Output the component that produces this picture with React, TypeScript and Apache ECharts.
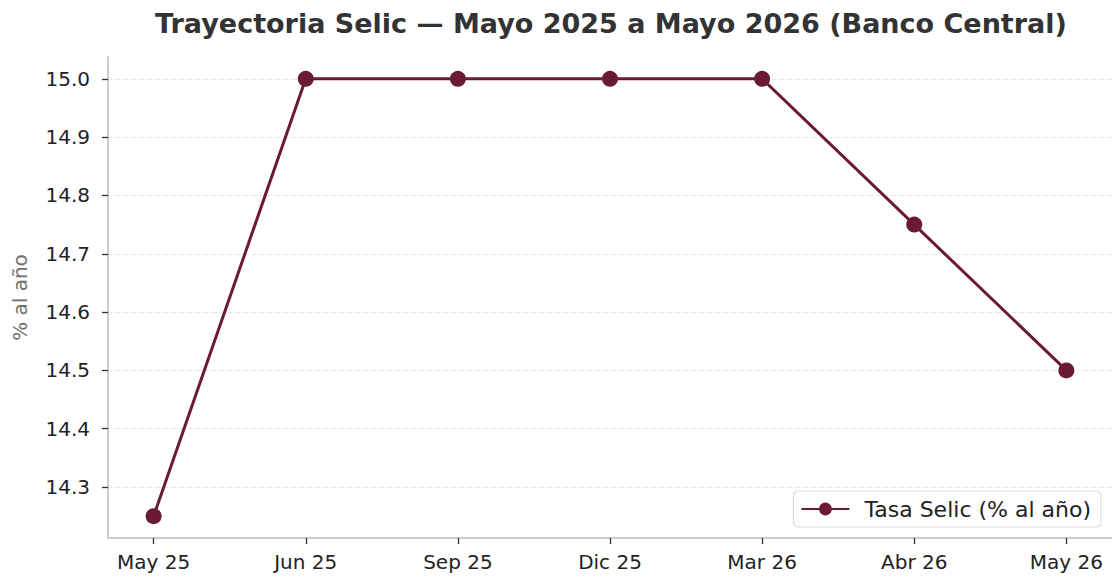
import React, { useEffect, useRef } from "react";
import * as echarts from "echarts";

const categories = ["May 25", "Jun 25", "Sep 25", "Dic 25", "Mar 26", "Abr 26", "May 26"];
const selic = [14.25, 15.0, 15.0, 15.0, 15.0, 14.75, 14.5];
const yTicks = [14.3, 14.4, 14.5, 14.6, 14.7, 14.8, 14.9, 15.0];
const seriesName = "Tasa Selic (% al año)";
const titleText = "Trayectoria Selic — Mayo 2025 a Mayo 2026 (Banco Central)";
const yName = "% al año";

export default function App() {
  const ref = useRef<HTMLDivElement>(null);
  useEffect(() => {
    document.body.style.margin = "0";
    const chart = echarts.init(ref.current!, null, { renderer: "svg" });
    const font = "DejaVu Sans";
    const xIdx = categories.map((_, i) => i);
    chart.setOption({
      animation: false,
      backgroundColor: "#ffffff",
      textStyle: { fontFamily: font },
      title: {
        text: titleText,
        left: 606,
        textAlign: "center",
        top: 5,
        textStyle: { fontFamily: font, fontSize: 27, fontWeight: "bold", color: "#333333" },
      },
      grid: { left: 108, right: 0, top: 57, bottom: 42, containLabel: false, outerBoundsMode: "none" },
      legend: {
        right: 11,
        bottom: 53,
        itemWidth: 48,
        itemHeight: 16,
        padding: [7, 10, 7, 7],
        borderColor: "#dcdcdc",
        borderWidth: 1.2,
        borderRadius: 5,
        backgroundColor: "#ffffff",
        textStyle: { fontFamily: font, fontSize: 22, color: "#222222", padding: [0, 0, 0, 10] },
        data: [seriesName],
      },
      xAxis: {
        type: "value",
        min: -0.3,
        max: 6.3,
        axisLine: { show: true, onZero: false, lineStyle: { color: "#cccccc", width: 2 } },
        axisTick: { show: true, customValues: xIdx, length: 6, lineStyle: { color: "#333333", width: 1.3 } },
        axisLabel: {
          customValues: xIdx,
          formatter: (v: number) => categories[Math.round(v)] ?? "",
          fontFamily: font,
          fontSize: 20,
          color: "#222222",
          margin: 14,
        },
        splitLine: { show: false },
      },
      yAxis: {
        type: "value",
        min: 14.2125,
        max: 15.0375,
        name: yName,
        nameLocation: "middle",
        nameGap: 78,
        nameRotate: 90,
        nameTextStyle: { fontFamily: font, fontSize: 20, color: "#707070" },
        axisLine: { show: true, onZero: false, lineStyle: { color: "#cccccc", width: 2 } },
        axisTick: { show: true, customValues: yTicks, length: 6, lineStyle: { color: "#333333", width: 1.3 } },
        axisLabel: {
          customValues: yTicks,
          formatter: (v: number) => v.toFixed(1),
          fontFamily: font,
          fontSize: 20,
          color: "#222222",
          margin: 18,
        },
        splitLine: { show: false },
      },
      series: [
        {
          name: seriesName,
          type: "line",
          data: selic.map((v, i) => [i, v]),
          symbol: "circle",
          symbolSize: 16,
          lineStyle: { color: "#6b1a35", width: 3 },
          itemStyle: { color: "#6b1a35" },
          markLine: {
            silent: true,
            symbol: "none",
            label: { show: false },
            lineStyle: { color: "#e2e2e2", type: [5, 3], width: 0.9 },
            data: yTicks.map((t) => ({ yAxis: t })),
            z: 0,
          },
          z: 3,
        },
      ],
    });
    return () => chart.dispose();
  }, []);
  return <div ref={ref} style={{ width: 1112, height: 580 }} />;
}
